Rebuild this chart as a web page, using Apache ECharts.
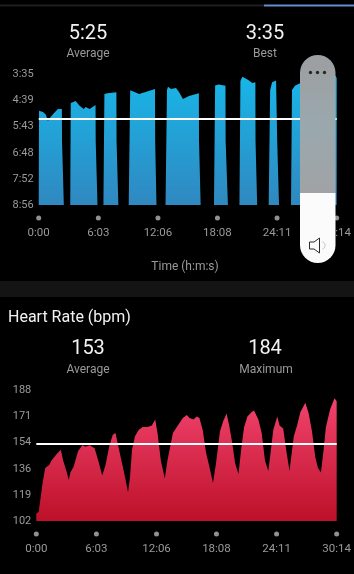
<!DOCTYPE html>
<html>
<head>
<meta charset="utf-8">
<style>
  html, body { margin: 0; padding: 0; background: #000; }
  #chart { width: 354px; height: 574px; }
</style>
<script src="https://cdn.jsdelivr.net/npm/echarts@6/dist/echarts.min.js"></script>
</head>
<body>
<div id="chart"></div>
<script>
// x ticks, in seconds
var timeTicks = [0, 363, 726, 1088, 1451, 1814];
var timeLabels = ["0:00", "6:03", "12:06", "18:08", "24:11", "30:14"];

// pace, seconds per km (null = gap between the efforts)
var paceTicks = [215, 279, 343, 408, 472, 536];
var paceLabels = ["3:35", "4:39", "5:43", "6:48", "7:52", "8:56"];
var paceTimes = [
  0, 2, 26, 44, 56, 68, 92, 117, 141, 142, 153, 170,
  192, 195, 225, 249, 274, 286, 310, 346, 347, 358, 375,
  394, 400, 419, 473, 474, 485, 515,
  548, 557, 612, 660, 708, 709, 717, 745,
  772, 781, 787, 806, 836, 854, 878, 915, 975, 976, 986, 1025,
  1067, 1074, 1095, 1137, 1138, 1152, 1190,
  1222, 1228, 1240, 1276, 1300, 1319, 1320, 1330, 1365,
  1400, 1409, 1421, 1445, 1451, 1452, 1463, 1500,
  1536, 1542, 1560, 1578, 1638, 1699, 1759, 1789, 1807, 1814, 1814
];
var paceValues = [
  536, 305, 308, 315, 330, 323, 311, 301, 301, 380, 536, null,
  536, 286, 281, 293, 301, 296, 301, 291, 380, 536, null,
  536, 264, 262, 260, 380, 536, null,
  536, 255, 264, 258, 252, 380, 536, null,
  536, 254, 246, 252, 249, 259, 276, 269, 262, 380, 536, null,
  536, 243, 241, 244, 380, 536, null,
  536, 232, 222, 230, 237, 235, 380, 536, null,
  536, 254, 235, 231, 235, 380, 536, null,
  536, 254, 244, 240, 230, 225, 220, 220, 219, 225, 536
];
var paceAverage = 325;

// heart rate, bpm
var hrTicks = [102, 119, 136, 154, 171, 188];
var hrTimes = [
  0, 14, 22, 38, 54, 78, 92, 122, 148, 162, 182, 196, 206, 226, 252, 278, 298, 322, 352, 374,
  398, 418, 442, 462, 478, 492, 518, 532, 554, 566, 578, 596, 618, 642, 672, 698, 718, 732, 752, 776,
  792, 825, 861, 885, 909, 925, 949, 969, 985, 1005, 1025, 1045, 1067, 1085, 1109, 1129, 1149, 1165, 1181, 1201,
  1221, 1239, 1255, 1275, 1301, 1315, 1341, 1361, 1381, 1401, 1417, 1431, 1455, 1469, 1491, 1509, 1529, 1555, 1575, 1595,
  1625, 1645, 1665, 1685, 1701, 1719, 1735, 1749, 1775, 1801, 1814
];
var hrValues = [
  107, 108, 114, 127, 137, 139, 142, 146, 149, 142, 135, 129, 134, 138, 148, 152, 151, 152, 150, 142,
  132, 139, 152, 159, 160, 153, 140, 133, 121, 131, 149, 158, 162, 164, 164, 165, 169, 160, 142, 130,
  142, 160, 166, 170, 172, 170, 169, 171, 170, 162, 147, 138, 127, 140, 161, 168, 173, 165, 155, 140,
  133, 151, 164, 171, 174, 175, 169, 160, 142, 135, 149, 162, 171, 165, 163, 149, 135, 158, 165, 174,
  180, 173, 161, 144, 137, 134, 149, 164, 176, 183, 181
];
var hrAverage = 153;

var FONT = "Roboto, sans-serif";
var GREY = "#9a9a9a";

function zip(xs, ys) {
  return xs.map(function (x, i) { return [x, ys[i]]; });
}

function xAxisFor(grid) {
  return {
    type: "value",
    gridIndex: grid,
    min: 0,
    max: 1814,
    axisLine: { show: false },
    axisTick: { show: false },
    splitLine: { show: false },
    axisLabel: {
      customValues: timeTicks,
      margin: 22,
      color: GREY,
      fontSize: 11.5,
      fontFamily: FONT,
      formatter: function (v) { return timeLabels[timeTicks.indexOf(v)]; }
    }
  };
}

function yAxisFor(grid, ticks, labels, inverse) {
  return {
    type: "value",
    gridIndex: grid,
    inverse: inverse,
    min: ticks[0],
    max: ticks[ticks.length - 1],
    axisLine: { show: false },
    axisTick: { show: false },
    splitLine: { show: false },
    axisLabel: {
      customValues: ticks,
      margin: 5,
      padding: [4, 0, 0, 0],
      color: GREY,
      fontSize: 11,
      fontFamily: FONT,
      formatter: function (v) { return labels[ticks.indexOf(v)]; }
    }
  };
}

function areaSeries(grid, data, top, bottom, origin, avg) {
  return {
    type: "line",
    xAxisIndex: grid,
    yAxisIndex: grid,
    data: data,
    showSymbol: false,
    silent: true,
    connectNulls: false,
    lineStyle: { width: 0 },
    areaStyle: {
      origin: origin,
      opacity: 1,
      color: new echarts.graphic.LinearGradient(0, 0, 0, 1, [
        { offset: 0, color: top },
        { offset: 1, color: bottom }
      ])
    },
    markLine: {
      silent: true,
      symbol: "none",
      animation: false,
      label: { show: false },
      lineStyle: { color: "#fff", width: 2, type: "solid" },
      data: [{ yAxis: avg }]
    }
  };
}

function dotSeries(grid, y) {
  return {
    type: "scatter",
    xAxisIndex: grid,
    yAxisIndex: grid,
    data: timeTicks.map(function (t) { return [t, y]; }),
    symbolSize: 5,
    symbolOffset: [0, 13],
    clip: false,
    silent: true,
    itemStyle: { color: "#b5b5b5" }
  };
}

function txt(x, y, s, size, color, align) {
  return {
    type: "text",
    x: x,
    y: y,
    z: 10,
    style: {
      text: s,
      fontSize: size,
      fontFamily: FONT,
      fill: color,
      align: align || "center",
      verticalAlign: "middle"
    }
  };
}

var mychart = echarts.init(document.getElementById("chart"));

var option = {
  backgroundColor: "#000",
  animation: false,
  grid: [
    { left: 38.7, right: 15, top: 74, height: 131 },
    { left: 36.3, right: 15, top: 390.7, height: 130.3 }
  ],
  xAxis: [xAxisFor(0), xAxisFor(1)],
  yAxis: [
    yAxisFor(0, paceTicks, paceLabels, true),
    yAxisFor(1, hrTicks, hrTicks, false)
  ],
  series: [
    areaSeries(0, zip(paceTimes, paceValues), "#18b6e8", "#3088c0", "end", paceAverage),
    areaSeries(1, zip(hrTimes, hrValues), "#f2436d", "#bd1029", "start", hrAverage),
    dotSeries(0, 536),
    dotSeries(1, 102)
  ],
  graphic: [
    // top progress bar and section divider
    { type: "rect", z: 1, shape: { x: 0, y: 4.5, width: 264, height: 2 }, style: { fill: "#1e1e1e" } },
    { type: "rect", z: 1, shape: { x: 264, y: 4.5, width: 90, height: 2 }, style: { fill: "#5f8fd0" } },
    { type: "rect", z: 1, shape: { x: 0, y: 281, width: 354, height: 16 }, style: { fill: "#141414" } },

    txt(88, 33.5, "5:25", 20, "#f2f2f2"),
    txt(88, 54, "Average", 12, GREY),
    txt(265, 33.5, "3:35", 20, "#f2f2f2"),
    txt(265, 54, "Best", 12, GREY),
    txt(185, 266.5, "Time (h:m:s)", 12, GREY),
    txt(8, 317.5, "Heart Rate (bpm)", 16, "#f2f2f2", "left"),
    txt(88, 349, "153", 20, "#f2f2f2"),
    txt(88, 369.5, "Average", 12, GREY),
    txt(265, 349, "184", 20, "#f2f2f2"),
    txt(266, 369.5, "Maximum", 12, GREY),

    // volume slider sitting over the chart
    {
      type: "rect", z: 100,
      shape: { x: 300, y: 55, width: 35.5, height: 138, r: [18, 18, 0, 0] },
      style: {
        fill: new echarts.graphic.LinearGradient(0, 0, 0, 1, [
          { offset: 0, color: "#9d9ea0" },
          { offset: 0.5, color: "#9aa8ae" },
          { offset: 1, color: "#a0a3a5" }
        ])
      }
    },
    {
      type: "rect", z: 100,
      shape: { x: 300, y: 193, width: 35.5, height: 70, r: [0, 0, 18, 18] },
      style: { fill: "#fbfbfb" }
    },
    { type: "circle", z: 101, shape: { cx: 310.5, cy: 72.5, r: 1.7 }, style: { fill: "#26282a" } },
    { type: "circle", z: 101, shape: { cx: 317.5, cy: 72.5, r: 1.7 }, style: { fill: "#26282a" } },
    { type: "circle", z: 101, shape: { cx: 324.5, cy: 72.5, r: 1.7 }, style: { fill: "#26282a" } },
    {
      type: "polygon", z: 101,
      shape: { points: [[309.5, 242], [314, 242], [319.5, 238], [319.5, 253], [314, 249], [309.5, 249]] },
      style: { fill: "#fbfbfb", stroke: "#2b2b2b", lineWidth: 1 }
    },
    {
      type: "arc", z: 101,
      shape: { cx: 321, cy: 245.5, r: 4, startAngle: -1.2, endAngle: 1.2 },
      style: { fill: null, stroke: "#c4c4c4", lineWidth: 1 }
    }
  ]
};

mychart.setOption(option);
</script>
</body>
</html>
